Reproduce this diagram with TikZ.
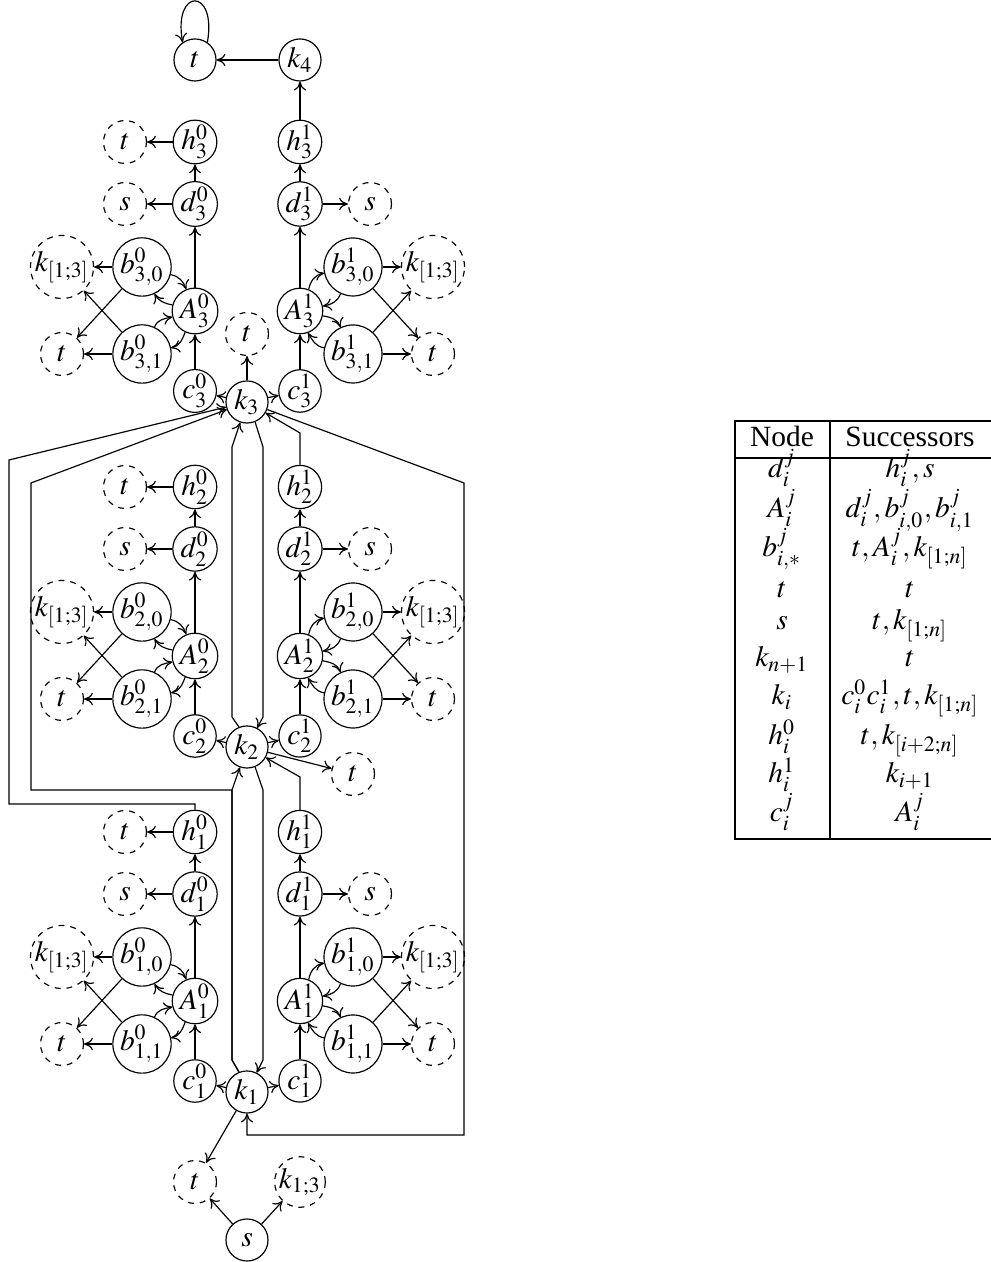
\documentclass[tikz,border=0pt]{standalone}
\usepackage{mathptmx}
\usepackage{fontspec}
\setmainfont{Liberation Serif}
\usetikzlibrary{arrows.meta}
\tikzset{
  nd/.style={circle, draw, minimum size=14.3pt, inner sep=0pt},
  bn/.style={circle, draw, minimum size=17.7pt, inner sep=0pt},
  dn/.style={circle, draw, dash pattern=on 2pt off 2pt, minimum size=14.6pt, inner sep=0pt},
  dk/.style={dn, minimum size=19.4pt},
  tb/.style={line width=0.8pt},
  cell/.style={anchor=base, inner sep=0pt},
}
\begin{document}
\begin{tikzpicture}[x=0.34pt, y=0.34pt, >={Computer Modern Rightarrow[length=3pt,width=4.2pt]}]
\useasboundingbox (0,0) rectangle (990,1262);

% ---------- sections ----------
\foreach \i in {1,2,3}{
  \pgfmathsetmacro{\K}{170+345*(\i-1)}
  \node[nd] (k\i) at (247,\K) {$k_{\i}$};
  \node[nd] (c0-\i) at (195,\K+11) {$c^0_{\i}$};
  \node[nd] (c1-\i) at (300,\K+11) {$c^1_{\i}$};
  \node[nd] (A0-\i) at (195,\K+91) {$A^0_{\i}$};
  \node[nd] (A1-\i) at (300,\K+91) {$A^1_{\i}$};
  \node[bn] (b00-\i) at (142,\K+135) {$b^0_{\i,0}$};
  \node[bn] (b01-\i) at (142,\K+48) {$b^0_{\i,1}$};
  \node[bn] (b10-\i) at (353,\K+135) {$b^1_{\i,0}$};
  \node[bn] (b11-\i) at (353,\K+48) {$b^1_{\i,1}$};
  \node[dk] (kL-\i) at (62,\K+135) {$k_{[1;3]}$};
  \node[dk] (kR-\i) at (433,\K+135) {$k_{[1;3]}$};
  \node[dn] (tL-\i) at (62,\K+48) {$t$};
  \node[dn] (tR-\i) at (433,\K+48) {$t$};
  \node[nd] (d0-\i) at (195,\K+198) {$d^0_{\i}$};
  \node[nd] (d1-\i) at (300,\K+198) {$d^1_{\i}$};
  \node[dn] (sL-\i) at (125,\K+198) {$s$};
  \node[dn] (sR-\i) at (370,\K+198) {$s$};
  \node[nd] (h0-\i) at (195,\K+260) {$h^0_{\i}$};
  \node[nd] (h1-\i) at (300,\K+260) {$h^1_{\i}$};
  \node[dn] (th-\i) at (125,\K+260) {$t$};

  \draw[->] (k\i) -- (c0-\i);
  \draw[->] (k\i) -- (c1-\i);
  \draw[->] (c0-\i) -- (A0-\i);
  \draw[->] (c1-\i) -- (A1-\i);
  \draw[->] (A0-\i) -- (d0-\i);
  \draw[->] (A1-\i) -- (d1-\i);
  \draw[->] (d0-\i) -- (h0-\i);
  \draw[->] (d1-\i) -- (h1-\i);
  \draw[->] (d0-\i) -- (sL-\i);
  \draw[->] (d1-\i) -- (sR-\i);
  \draw[->] (h0-\i) -- (th-\i);
  \draw[->] (b00-\i) -- (kL-\i);
  \draw[->] (b00-\i) -- (tL-\i);
  \draw[->] (b01-\i) -- (kL-\i);
  \draw[->] (b01-\i) -- (tL-\i);
  \draw[->] (b10-\i) -- (kR-\i);
  \draw[->] (b10-\i) -- (tR-\i);
  \draw[->] (b11-\i) -- (kR-\i);
  \draw[->] (b11-\i) -- (tR-\i);
  % curved A <-> b (left)
  \draw[->] (b00-\i.-15) to[out=-10,in=110] (A0-\i.112);
  \draw[->] (A0-\i.165) to[out=170,in=-60] (b00-\i.-65);
  \draw[->] (b01-\i.65) to[out=70,in=190] (A0-\i.195);
  \draw[->] (A0-\i.245) to[out=-110,in=10] (b01-\i.12);
  % curved A <-> b (right)
  \draw[->] (A1-\i.68) to[out=80,in=190] (b10-\i.192);
  \draw[->] (b10-\i.245) to[out=-110,in=10] (A1-\i.12);
  \draw[->] (A1-\i.-12) to[out=-10,in=110] (b11-\i.115);
  \draw[->] (b11-\i.168) to[out=170,in=-60] (A1-\i.-70);
}

% ---------- extra nodes ----------
\node[dn] (tk3) at (247,928) {$t$};
\node[dn] (tk2) at (353,488) {$t$};
\node[dn] (tk1) at (195,80) {$t$};
\node[dn] (k13) at (300,80) {$k_{1;3}$};
\node[nd] (s0) at (247,22) {$s$};
\node[nd] (ttop) at (195,1202) {$t$};
\node[nd] (k4) at (300,1202) {$k_4$};

\draw[->] (k3) -- (tk3);
\draw[->] (k2) -- (tk2);
\draw[->] (k1) -- (tk1);
\draw[->] (s0) -- (tk1);
\draw[->] (s0) -- (k13);
\draw[->] (h1-3) -- (k4);
\draw[->] (k4) -- (ttop);
\draw[->] (ttop.55) .. controls +(80:19pt) and +(100:19pt) .. (ttop.125);

% ---------- long connectors ----------
\draw[->] (k3.-68) -- (263,815) -- (263,545) -- (k2);
\draw[->] (k2.112) -- (232,545) -- (232,815) -- (k3);
\draw[->] (k1.112) -- (232,202) -- (232,472) -- (k2);
\draw[->] (k1.112) -- (232,202) -- (232,472) -- (31,472) -- (31,779) -- (k3);
\draw[->] (k2.-68) -- (263,472) -- (263,202) -- (k1);
\draw[->] (h1-1.north) -- (300,485) -- (k2);
\draw[->] (h1-2.north) -- (300,829) -- (k3);
\draw[->] (h0-1.north) -- (195,458) -- (9,458) -- (9,802) -- (k3);
\draw[->] (k3) -- (464,779) -- (464,127) -- (247,127) -- (k1);

% ---------- table ----------
\draw[tb] (735,841) rectangle (1000,423);
\draw[tb] (735,804) -- (1000,804);
\draw[tb] (830,841) -- (830,423);
\node[cell] (hN) at (782,815) {Node};
\node[cell] (hS) at (910,815) {Successors};
\node[cell] (r1a) at (782,784) {$d_i^j$};
\node[cell] (r1b) at (910,784) {$h_i^j, s$};
\node[cell] (r2a) at (782,744) {$A_i^j$};
\node[cell] (r2b) at (910,744) {$d_i^j, b_{i,0}^j, b_{i,1}^j$};
\node[cell] (r3a) at (782,705) {$b_{i,*}^j$};
\node[cell] (r3b) at (910,705) {$t, A_i^j, k_{[1;n]}$};
\node[cell] (r4a) at (782,664) {$t$};
\node[cell] (r4b) at (910,664) {$t$};
\node[cell] (r5a) at (782,632) {$s$};
\node[cell] (r5b) at (910,632) {$t, k_{[1;n]}$};
\node[cell] (r6a) at (782,595) {$k_{n+1}$};
\node[cell] (r6b) at (910,595) {$t$};
\node[cell] (r7a) at (782,557) {$k_i$};
\node[cell] (r7b) at (910,557) {$c_i^0 c_i^1, t, k_{[1;n]}$};
\node[cell] (r8a) at (782,517) {$h_i^0$};
\node[cell] (r8b) at (910,517) {$t, k_{[i+2;n]}$};
\node[cell] (r9a) at (782,479) {$h_i^1$};
\node[cell] (r9b) at (910,479) {$k_{i+1}$};
\node[cell] (r10a) at (782,440) {$c_i^j$};
\node[cell] (r10b) at (910,440) {$A_i^j$};
\end{tikzpicture}
\end{document}
